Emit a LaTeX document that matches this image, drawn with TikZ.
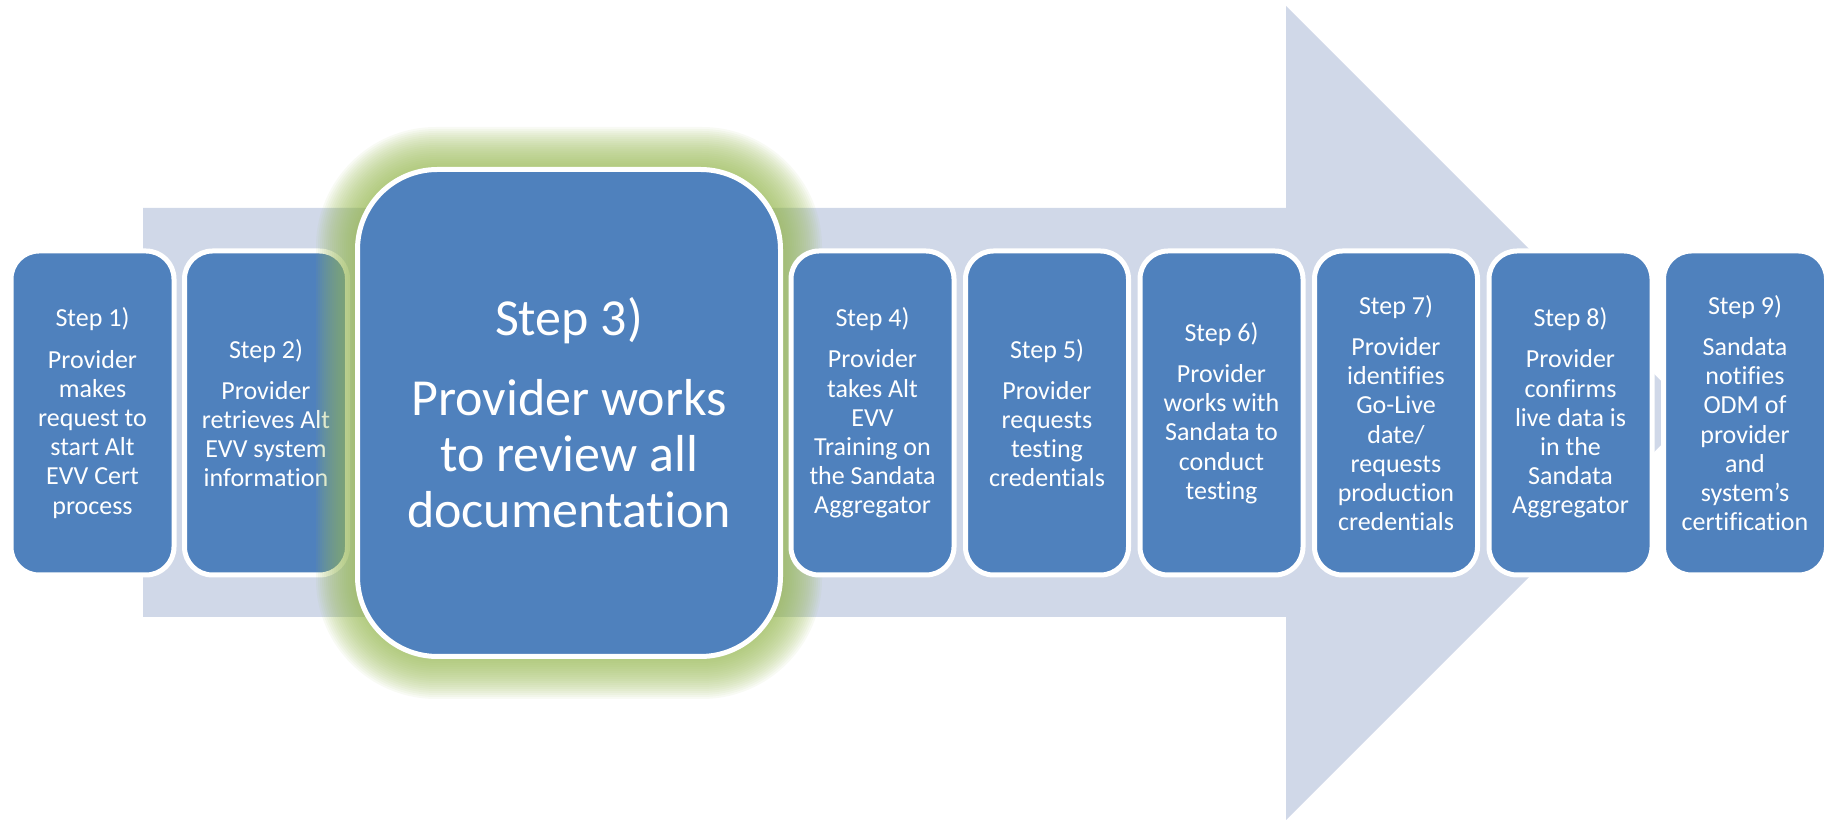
\documentclass[tikz,border=0pt]{standalone}
\usepackage{fontspec}
\setmainfont[Ligatures=NoCommon]{Carlito}
\definecolor{boxblue}{HTML}{4F81BD}
\definecolor{arrowgray}{HTML}{D0D8E8}
\definecolor{glowgreen}{HTML}{9BBB59}
\tikzset{
  stepbox/.style={rounded corners=14pt, fill=boxblue, draw=white, line width=2.5pt,
    minimum width=81.5pt, minimum height=162pt, text=white, align=center, inner sep=0pt,
    font=\fontsize{13pt}{14.6pt}\selectfont},
  bigbox/.style={rounded corners=40pt, fill=boxblue, draw=white, line width=2.5pt,
    minimum width=211.5pt, minimum height=243.5pt, text=white, align=center, inner sep=0pt,
    font=\fontsize{26pt}{28pt}\selectfont},
  glowlayer/.style={fill=glowgreen, fill opacity=0.065, draw=none}
}
\begin{document}
\begin{tikzpicture}[x=0.5pt,y=-0.5pt]
\useasboundingbox (0,0) rectangle (1837,822);
% big background arrow
\fill[arrowgray] (143,208) -- (1286,208) -- (1286,6) -- (1693,413) -- (1286,820)
  -- (1286,617) -- (143,617) -- cycle;
% steps 1 and 2
\node[stepbox] (s1) at (92.5,413) {Step 1)\\[6pt]Provider\\makes\\request to\\start Alt\\EVV Cert\\process};
\node[stepbox] (s2) at (266,413) {Step 2)\\[6pt]Provider\\retrieves Alt\\EVV system\\information};
% glow around step 3
\foreach \k in {40,38,...,2}{
  \fill[glowlayer, rounded corners=40pt+0.5pt*\k] (356-\k,167-\k) rectangle (782+\k,659+\k);
}
\node[bigbox] (s3) at (569,413) {Step 3)\\[12pt]Provider works\\to review all\\documentation};
% steps 4 to 9
\node[stepbox] (s4) at (872.5,413) {Step 4)\\[6pt]Provider\\takes Alt\\EVV\\Training on\\the Sandata\\Aggregator};
\node[stepbox] (s5) at (1047,413) {Step 5)\\[6pt]Provider\\requests\\testing\\credentials};
\node[stepbox] (s6) at (1221.5,413) {Step 6)\\[6pt]Provider\\works with\\Sandata to\\conduct\\testing};
\node[stepbox] (s7) at (1396,413) {Step 7)\\[6pt]Provider\\identifies\\Go-Live\\date/\\requests\\production\\credentials};
\node[stepbox] (s8) at (1570.5,413) {Step 8)\\[6pt]Provider\\confirms\\live data is\\in the\\Sandata\\Aggregator};
\node[stepbox] (s9) at (1745,413) {Step 9)\\[6pt]Sandata\\notifies\\ODM of\\provider\\and\\system’s\\certification};
\end{tikzpicture}
\end{document}
